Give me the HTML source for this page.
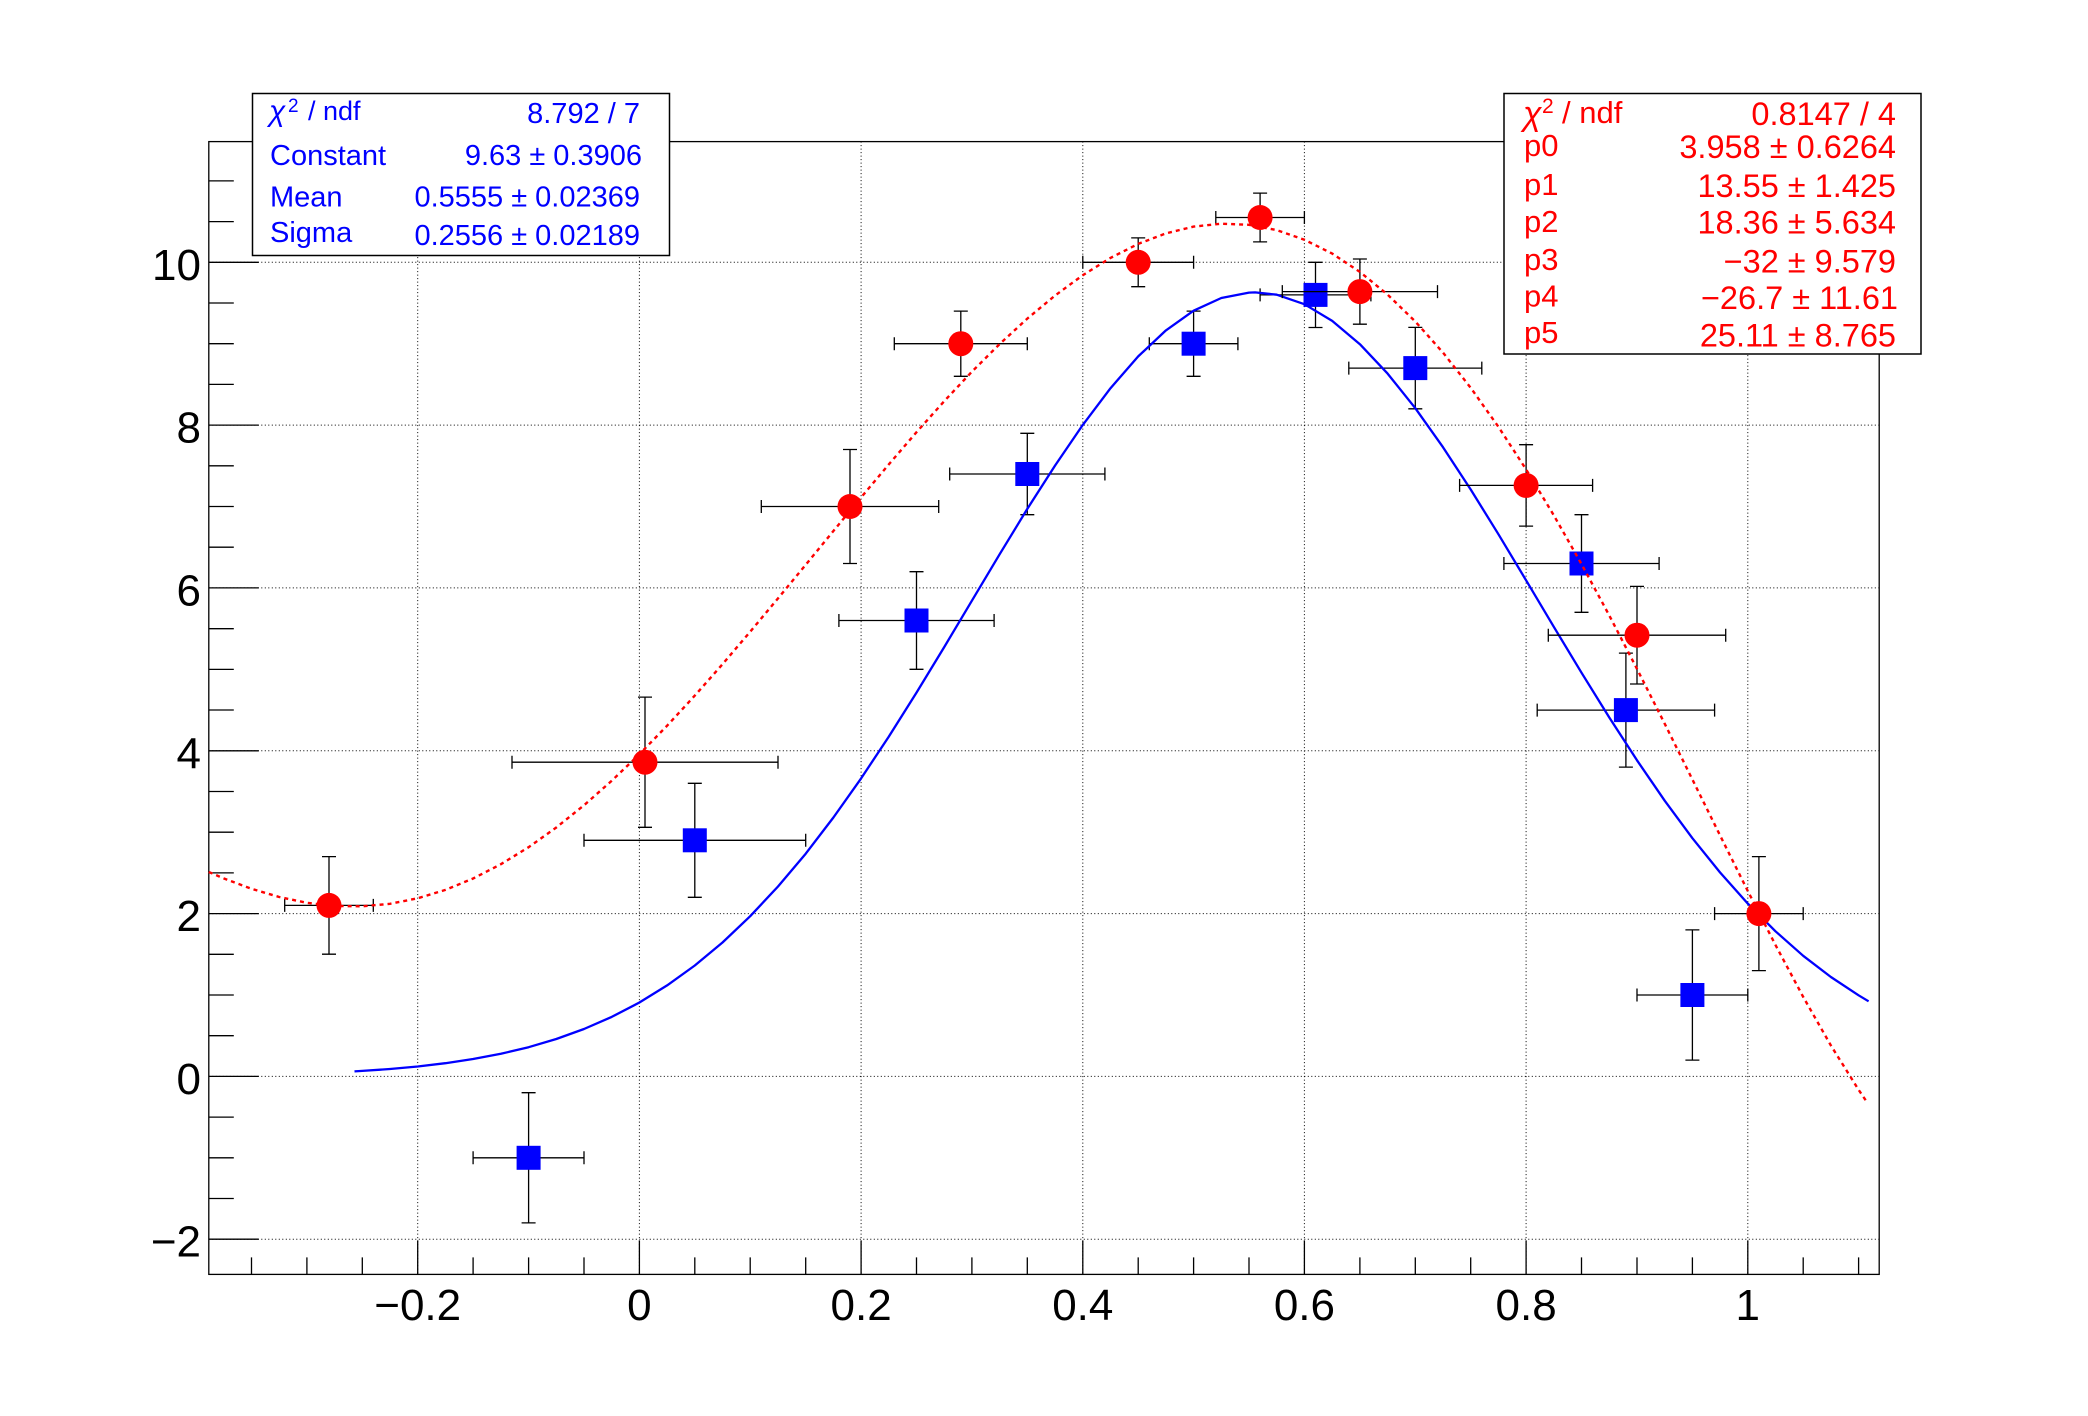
<!DOCTYPE html>
<html>
<head>
<meta charset="utf-8">
<style>
  html, body { margin: 0; padding: 0; background: #fff; }
  body { width: 2088px; height: 1416px; overflow: hidden; }
  svg { display: block; }
  text { font-family: "Liberation Sans", Arial, sans-serif; }
</style>
</head>
<body>
<svg width="2088" height="1416" viewBox="0 0 2088 1416" xmlns="http://www.w3.org/2000/svg">
  <rect x="0" y="0" width="2088" height="1416" fill="#ffffff"/>

  <!-- grid -->
  <path fill="none" stroke="#000" stroke-width="1" stroke-dasharray="1 2.5"
        d="M417.7 141.6V1274.4 M639.4 141.6V1274.4 M861.1 141.6V1274.4 M1082.8 141.6V1274.4 M1304.4 141.6V1274.4 M1526.1 141.6V1274.4 M1747.8 141.6V1274.4
           M208.8 1239.2H1879.2 M208.8 1076.4H1879.2 M208.8 913.6H1879.2 M208.8 750.8H1879.2 M208.8 587.9H1879.2 M208.8 425.1H1879.2 M208.8 262.3H1879.2"/>

  <!-- frame -->
  <rect x="208.8" y="141.6" width="1670.4" height="1132.8" fill="none" stroke="#000" stroke-width="1.3"/>

  <!-- ticks -->
  <path fill="none" stroke="#000" stroke-width="1.3"
        d="M417.7 1274.4V1240.4 M639.4 1274.4V1240.4 M861.1 1274.4V1240.4 M1082.8 1274.4V1240.4 M1304.4 1274.4V1240.4 M1526.1 1274.4V1240.4 M1747.8 1274.4V1240.4
           M251.5 1274.4V1257.4 M306.9 1274.4V1257.4 M362.3 1274.4V1257.4 M473.1 1274.4V1257.4 M528.6 1274.4V1257.4 M584 1274.4V1257.4 M694.8 1274.4V1257.4 M750.2 1274.4V1257.4 M805.7 1274.4V1257.4 M916.5 1274.4V1257.4 M971.9 1274.4V1257.4 M1027.3 1274.4V1257.4 M1138.2 1274.4V1257.4 M1193.6 1274.4V1257.4 M1249 1274.4V1257.4 M1359.9 1274.4V1257.4 M1415.3 1274.4V1257.4 M1470.7 1274.4V1257.4 M1581.5 1274.4V1257.4 M1637 1274.4V1257.4 M1692.4 1274.4V1257.4 M1803.2 1274.4V1257.4 M1858.6 1274.4V1257.4
           M208.8 1239.2H258.8 M208.8 1076.4H258.8 M208.8 913.6H258.8 M208.8 750.8H258.8 M208.8 587.9H258.8 M208.8 425.1H258.8 M208.8 262.3H258.8
           M208.8 1198.5H233.8 M208.8 1157.8H233.8 M208.8 1117.1H233.8 M208.8 1035.7H233.8 M208.8 995H233.8 M208.8 954.3H233.8 M208.8 872.9H233.8 M208.8 832.2H233.8 M208.8 791.5H233.8 M208.8 710H233.8 M208.8 669.4H233.8 M208.8 628.7H233.8 M208.8 547.2H233.8 M208.8 506.5H233.8 M208.8 465.8H233.8 M208.8 384.4H233.8 M208.8 343.7H233.8 M208.8 303H233.8 M208.8 221.6H233.8 M208.8 180.9H233.8"/>

  <!-- axis labels -->
  <g font-size="44" fill="#000" text-anchor="middle">
    <text x="417.7" y="1320">−0.2</text>
    <text x="639.4" y="1320">0</text>
    <text x="861.1" y="1320">0.2</text>
    <text x="1082.8" y="1320">0.4</text>
    <text x="1304.4" y="1320">0.6</text>
    <text x="1526.1" y="1320">0.8</text>
    <text x="1747.8" y="1320">1</text>
  </g>
  <g font-size="44" fill="#000" text-anchor="end">
    <text x="201" y="279.8">10</text>
    <text x="201" y="442.6">8</text>
    <text x="201" y="605.4">6</text>
    <text x="201" y="768.3">4</text>
    <text x="201" y="931.1">2</text>
    <text x="201" y="1093.9">0</text>
    <text x="201" y="1256.7">−2</text>
  </g>

  <!-- BLUE graph: error bars -->
  <path fill="none" stroke="#000" stroke-width="1.3"
        d="M473.1 1157.8H584 M528.6 1092.7V1222.9 M473.1 1151.3V1164.3 M584 1151.3V1164.3 M521.6 1092.7H535.6 M521.6 1222.9H535.6
           M584 840.3H805.7 M694.8 783.3V897.3 M584 833.8V846.8 M805.7 833.8V846.8 M687.8 783.3H701.8 M687.8 897.3H701.8
           M838.9 620.5H994.1 M916.5 571.7V669.3 M838.9 614V627 M994.1 614V627 M909.5 571.7H923.5 M909.5 669.3H923.5
           M949.7 474H1104.9 M1027.3 433.3V514.7 M949.7 467.5V480.5 M1104.9 467.5V480.5 M1020.3 433.3H1034.3 M1020.3 514.7H1034.3
           M1149.3 343.7H1237.9 M1193.6 311.1V376.3 M1149.3 337.2V350.2 M1237.9 337.2V350.2 M1186.6 311.1H1200.6 M1186.6 376.3H1200.6
           M1260.1 294.9H1370.9 M1315.5 262.3V327.5 M1260.1 288.4V301.4 M1370.9 288.4V301.4 M1308.5 262.3H1322.5 M1308.5 327.5H1322.5
           M1348.8 368.1H1481.8 M1415.3 327.4V408.8 M1348.8 361.6V374.6 M1481.8 361.6V374.6 M1408.3 327.4H1422.3 M1408.3 408.8H1422.3
           M1503.9 563.5H1659.1 M1581.5 514.7V612.3 M1503.9 557V570 M1659.1 557V570 M1574.5 514.7H1588.5 M1574.5 612.3H1588.5
           M1537.2 710.1H1714.6 M1625.9 653.1V767.1 M1537.2 703.6V716.6 M1714.6 703.6V716.6 M1618.9 653.1H1632.9 M1618.9 767.1H1632.9
           M1637 995H1747.8 M1692.4 929.9V1060.1 M1637 988.5V1001.5 M1747.8 988.5V1001.5 M1685.4 929.9H1699.4 M1685.4 1060.1H1699.4"/>
  <!-- BLUE markers -->
  <g fill="#0000ff">
    <rect x="516.6" y="1145.8" width="24" height="24"/>
    <rect x="682.8" y="828.3" width="24" height="24"/>
    <rect x="904.5" y="608.5" width="24" height="24"/>
    <rect x="1015.3" y="462" width="24" height="24"/>
    <rect x="1181.6" y="331.7" width="24" height="24"/>
    <rect x="1303.5" y="282.9" width="24" height="24"/>
    <rect x="1403.3" y="356.1" width="24" height="24"/>
    <rect x="1569.5" y="551.5" width="24" height="24"/>
    <rect x="1613.9" y="698.1" width="24" height="24"/>
    <rect x="1680.4" y="983" width="24" height="24"/>
  </g>
  <!-- BLUE gaus fit -->
  <polyline fill="none" stroke="#0000ff" stroke-width="2.3" stroke-linejoin="round"
    points="354.5,1071.4 362.3,1070.9 390.0,1069.0 417.7,1066.5 445.4,1063.2 473.1,1059.0 500.9,1053.8 528.6,1047.2 556.3,1039.0 584.0,1029.0 611.7,1016.9 639.4,1002.5 667.1,985.4 694.8,965.5 722.5,942.5 750.2,916.2 777.9,886.6 805.7,853.7 833.4,817.5 861.1,778.4 888.8,736.6 916.5,692.6 944.2,647.1 971.9,600.7 999.6,554.3 1027.3,508.9 1055.1,465.5 1082.8,424.9 1110.5,388.2 1138.2,356.4 1165.9,330.4 1193.6,310.7 1221.3,298.0 1249.0,292.6 1255.1,292.4 1276.7,294.7 1304.4,304.2 1332.2,320.9 1359.9,344.2 1387.6,373.6 1415.3,408.2 1443.0,447.2 1470.7,489.5 1498.4,534.2 1526.1,580.3 1553.8,626.8 1581.5,672.7 1609.3,717.5 1637.0,760.3 1664.7,800.7 1692.4,838.2 1720.1,872.5 1747.8,903.6 1775.5,931.3 1803.2,955.8 1830.9,977.0 1858.6,995.3 1868.6,1001.3"/>

  <!-- RED graph: error bars -->
  <path fill="none" stroke="#000" stroke-width="1.3"
        d="M284.7 905.4H373.3 M329 856.6V954.2 M284.7 898.9V911.9 M373.3 898.9V911.9 M322 856.6H336 M322 954.2H336
           M512 762.2H778 M645 697.1V827.3 M512 755.7V768.7 M778 755.7V768.7 M638 697.1H652 M638 827.3H652
           M761.3 506.5H938.7 M850 449.5V563.5 M761.3 500V513 M938.7 500V513 M843 449.5H857 M843 563.5H857
           M894.3 343.7H1027.3 M960.8 311.1V376.3 M894.3 337.2V350.2 M1027.3 337.2V350.2 M953.8 311.1H967.8 M953.8 376.3H967.8
           M1082.8 262.3H1193.6 M1138.2 237.9V286.7 M1082.8 255.8V268.8 M1193.6 255.8V268.8 M1131.2 237.9H1145.2 M1131.2 286.7H1145.2
           M1215.8 217.5H1304.4 M1260.1 193.1V241.9 M1215.8 211V224 M1304.4 211V224 M1253.1 193.1H1267.1 M1253.1 241.9H1267.1
           M1282.3 291.6H1437.5 M1359.9 259V324.2 M1282.3 285.1V298.1 M1437.5 285.1V298.1 M1352.9 259H1366.9 M1352.9 324.2H1366.9
           M1459.6 485.4H1592.6 M1526.1 444.7V526.1 M1459.6 478.9V491.9 M1592.6 478.9V491.9 M1519.1 444.7H1533.1 M1519.1 526.1H1533.1
           M1548.3 635.2H1725.7 M1637 586.4V684 M1548.3 628.7V641.7 M1725.7 628.7V641.7 M1630 586.4H1644 M1630 684H1644
           M1714.6 913.6H1803.2 M1758.9 856.6V970.6 M1714.6 907.1V920.1 M1803.2 907.1V920.1 M1751.9 856.6H1765.9 M1751.9 970.6H1765.9"/>
  <!-- RED markers -->
  <g fill="#ff0000">
    <circle cx="329" cy="905.4" r="12.5"/>
    <circle cx="645" cy="762.2" r="12.5"/>
    <circle cx="850" cy="506.5" r="12.5"/>
    <circle cx="960.8" cy="343.7" r="12.5"/>
    <circle cx="1138.2" cy="262.3" r="12.5"/>
    <circle cx="1260.1" cy="217.5" r="12.5"/>
    <circle cx="1359.9" cy="291.6" r="12.5"/>
    <circle cx="1526.1" cy="485.4" r="12.5"/>
    <circle cx="1637" cy="635.2" r="12.5"/>
    <circle cx="1758.9" cy="913.6" r="12.5"/>
  </g>
  <!-- RED pol5 fit (dotted) -->
  <polyline fill="none" stroke="#ff0000" stroke-width="2.4" stroke-dasharray="4 4"
    points="208.8,872.0 223.7,878.4 251.5,888.8 279.2,897.0 306.9,902.8 334.6,906.0 362.3,906.3 390.0,903.8 417.7,898.3 445.4,889.9 473.1,878.5 500.9,864.2 528.6,847.2 556.3,827.5 584.0,805.3 611.7,780.8 639.4,754.2 667.1,725.7 694.8,695.6 722.5,664.2 750.2,631.7 777.9,598.5 805.7,564.8 833.4,531.0 861.1,497.4 888.8,464.4 916.5,432.2 944.2,401.2 971.9,371.7 999.6,344.1 1027.3,318.6 1055.1,295.5 1082.8,275.2 1110.5,257.9 1138.2,243.9 1165.9,233.4 1193.6,226.6 1221.3,223.7 1249.0,224.8 1276.7,230.1 1304.4,239.7 1332.2,253.6 1359.9,271.9 1387.6,294.6 1415.3,321.5 1443.0,352.6 1470.7,387.8 1498.4,426.8 1526.1,469.4 1553.8,515.3 1581.5,564.1 1609.3,615.5 1637.0,668.9 1664.7,723.7 1692.4,779.5 1720.1,835.5 1747.8,891.0 1775.5,945.0 1803.2,996.9 1830.9,1045.5 1858.6,1089.8 1866.4,1101.3"/>

  <!-- BLUE stats box -->
  <rect x="252.5" y="93.5" width="417" height="162" fill="#ffffff" stroke="#000" stroke-width="1.5"/>
  <g fill="#0000ff">
    <text x="269" y="121" font-size="30" font-style="italic">χ</text>
    <text x="288" y="112" font-size="19">2</text>
    <text x="308" y="120" font-size="27">/ ndf</text>
    <text x="640" y="123" font-size="29" text-anchor="end">8.792 / 7</text>
    <text x="270" y="165" font-size="29">Constant</text>
    <text x="642" y="165" font-size="29" text-anchor="end">9.63 ± 0.3906</text>
    <text x="270" y="206.5" font-size="29">Mean</text>
    <text x="640" y="206.5" font-size="29" text-anchor="end">0.5555 ± 0.02369</text>
    <text x="270" y="242" font-size="29">Sigma</text>
    <text x="640" y="245" font-size="29" text-anchor="end">0.2556 ± 0.02189</text>
  </g>

  <!-- RED stats box -->
  <rect x="1504" y="93.5" width="417" height="260.5" fill="#ffffff" stroke="#000" stroke-width="1.5"/>
  <g fill="#ff0000">
    <text x="1523" y="125" font-size="34" font-style="italic">χ</text>
    <text x="1542" y="113" font-size="21">2</text>
    <text x="1562" y="123" font-size="31">/ ndf</text>
    <text x="1896" y="125" font-size="32.5" text-anchor="end">0.8147 / 4</text>
    <text x="1524" y="156" font-size="31">p0</text>
    <text x="1896" y="158" font-size="32.5" text-anchor="end">3.958 ± 0.6264</text>
    <text x="1524" y="195" font-size="31">p1</text>
    <text x="1896" y="197" font-size="32.5" text-anchor="end">13.55 ± 1.425</text>
    <text x="1524" y="232" font-size="31">p2</text>
    <text x="1896" y="233.5" font-size="32.5" text-anchor="end">18.36 ± 5.634</text>
    <text x="1524" y="270" font-size="31">p3</text>
    <text x="1896" y="272.5" font-size="32.5" text-anchor="end">−32 ± 9.579</text>
    <text x="1524" y="306.5" font-size="31">p4</text>
    <text x="1898" y="309" font-size="32.5" text-anchor="end">−26.7 ± 11.61</text>
    <text x="1524" y="343" font-size="31">p5</text>
    <text x="1896" y="346.5" font-size="32.5" text-anchor="end">25.11 ± 8.765</text>
  </g>
</svg>
</body>
</html>
